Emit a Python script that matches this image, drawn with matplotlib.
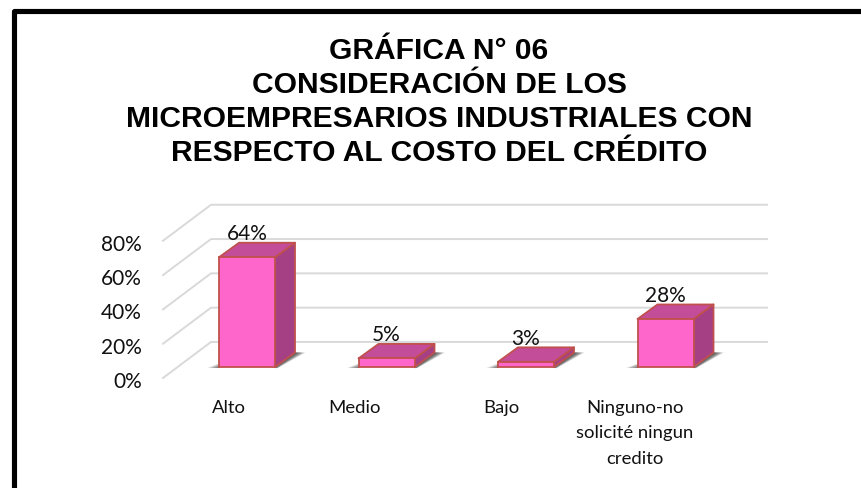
import matplotlib
matplotlib.use('Agg')
import matplotlib.pyplot as plt
from matplotlib.lines import Line2D
from matplotlib.patches import Polygon

# Datos
categorias = ['Alto', 'Medio', 'Bajo', 'Ninguno-no\nsolicité ningun\ncredito']
valores = [64, 5, 3, 28]
etiquetas = ['64%', '5%', '3%', '28%']
ticks = [0, 20, 40, 60, 80]
titulo = ('GRÁFICA N° 06\nCONSIDERACIÓN DE LOS\n'
          'MICROEMPRESARIOS INDUSTRIALES CON\nRESPECTO AL COSTO DEL CRÉDITO')

# Escala del dibujo: px por categoria y por punto porcentual
W, H = 861, 489
PX_CAT = 139.5
PX_PCT = 1.715
X0_PX = 247
Y0_PX = 368
ANCHO = 56 / PX_CAT
DX = 20 / PX_CAT
DY = 14.5 / PX_PCT

FRENTE = '#FF66CC'
LADO = '#A64084'
TECHO = '#C44D99'
BORDE = '#C0504D'
REJILLA = '#D9D9D9'

fig = plt.figure(figsize=(W / 100, H / 100), dpi=100, facecolor='white')
ax = fig.add_axes([0, 0, 1, 1])
ax.set_xlim(-X0_PX / PX_CAT, (W - X0_PX) / PX_CAT)
ax.set_ylim(-(H - Y0_PX) / PX_PCT, Y0_PX / PX_PCT)
ax.axis('off')

# Marco
fig.add_artist(Line2D([13.5 / W, 13.5 / W, 1], [0, 1 - 11.5 / H, 1 - 11.5 / H],
                      color='black', lw=3.7, solid_joinstyle='round',
                      solid_capstyle='butt'))

# Rejilla: pared lateral y pared del fondo
x_frente, x_fondo, x_fin = -0.602, -0.258, 3.727
y_frente, y_fondo = -6.4, 14.6
for t in ticks:
    ax.plot([x_frente, x_fondo, x_fin], [y_frente + t, y_fondo + t, y_fondo + t],
            color=REJILLA, lw=1.4, zorder=1)
    ax.text(x_frente - 0.15, y_frente + t - 1.7, f'{t}%', ha='right', va='center',
            family='Lato', fontsize=15, color='#111111')

# Barras
SOMBRA_PASOS = 10
for i, v in enumerate(valores):
    x0, x1 = i - ANCHO / 2, i + ANCHO / 2
    # sombra difusa en el suelo, a cada lado de la barra
    for k in range(SOMBRA_PASOS):
        e = (k + 1) / SOMBRA_PASOS
        ax.add_patch(Polygon([(x1, -0.6), (x1 + DX, DY), (x1 + DX + 0.075 * e, DY),
                              (x1 + 0.02 * e, -0.6)],
                             fc='#303030', ec='none', alpha=0.14, zorder=2))
        ax.add_patch(Polygon([(x0 - 0.085 * e, -0.6), (x0 + 0.01, -0.6), (x0 + 0.01, 2.5 * e)],
                             fc='#303030', ec='none', alpha=0.09, zorder=2))
    ax.add_patch(Polygon([(x1, 0), (x1 + DX, DY), (x1 + DX, v + DY), (x1, v)],
                         fc=LADO, ec=BORDE, lw=1.3, joinstyle='round', zorder=3))
    ax.add_patch(Polygon([(x0, v), (x1, v), (x1 + DX, v + DY), (x0 + DX, v + DY)],
                         fc=TECHO, ec=BORDE, lw=1.3, joinstyle='round', zorder=3))
    ax.bar(i, v, width=ANCHO, color=FRENTE, edgecolor=BORDE, lw=1.3, zorder=4)
    ax.annotate(etiquetas[i], (i, v), xytext=(0, 17.5), textcoords='offset points',
                ha='center', va='center', family='Lato', fontsize=15,
                color='#111111', zorder=5)

# Etiquetas de categoria
pos_etiq = [229, 355, 501, 635]
for c, p in zip(categorias, pos_etiq):
    ax.text((p - X0_PX) / PX_CAT, (Y0_PX - 400) / PX_PCT, c, ha='center', va='top',
            family='Lato', fontsize=13.3, linespacing=1.72, color='#111111')

# Titulo
fig.text(439 / W, 1 - 102 / H, titulo, ha='center', va='center', family='Liberation Sans',
         fontweight='bold', fontsize=21.65, linespacing=1.27, color='black')

fig.savefig('out.png', dpi=100)
